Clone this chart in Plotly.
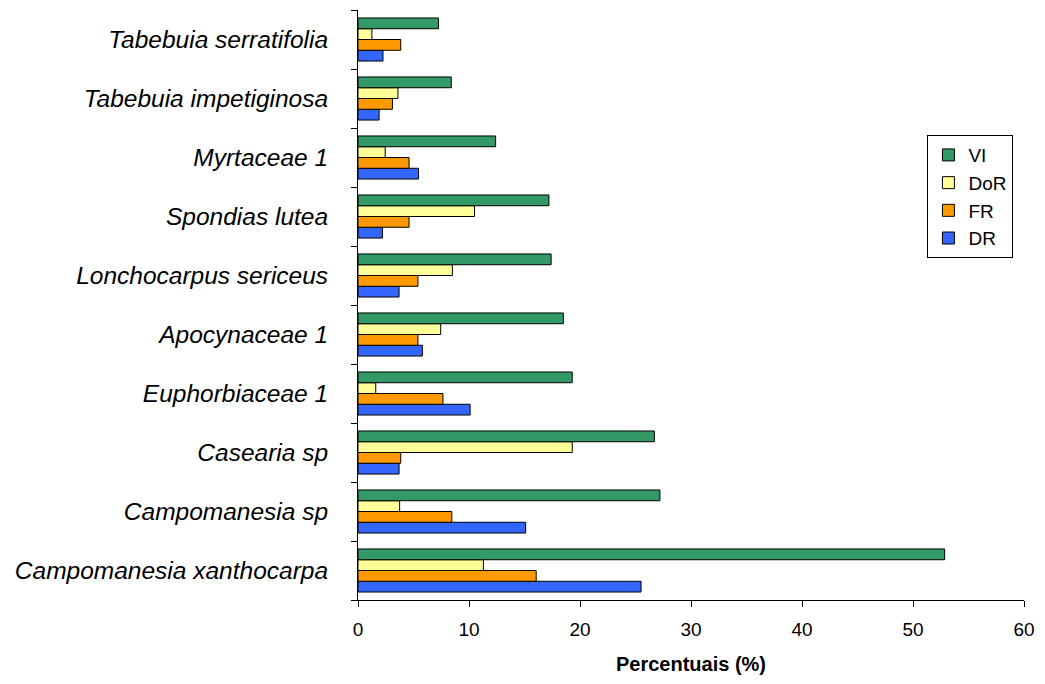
import plotly.graph_objects as go

# species, bottom to top as drawn
species = ['Campomanesia xanthocarpa', 'Campomanesia sp', 'Casearia sp', 'Euphorbiaceae 1',
           'Apocynaceae 1', 'Lonchocarpus sericeus', 'Spondias lutea', 'Myrtaceae 1',
           'Tabebuia impetiginosa', 'Tabebuia serratifolia']

dr = [25.5, 15.1, 3.7, 10.1, 5.8, 3.7, 2.2, 5.45, 1.9, 2.25]
fr = [16.05, 8.45, 3.85, 7.65, 5.4, 5.4, 4.6, 4.6, 3.1, 3.85]
dor = [11.3, 3.75, 19.3, 1.6, 7.45, 8.5, 10.5, 2.45, 3.6, 1.25]
vi = [52.85, 27.2, 26.7, 19.3, 18.5, 17.4, 17.2, 12.4, 8.4, 7.25]

# plotly stacks the first trace at the bottom of each group
series = [('DR', dr, '#3366FF'), ('FR', fr, '#FF9900'),
          ('DoR', dor, '#FFFF99'), ('VI', vi, '#339966')]

fig = go.Figure()
for name, vals, col in series:
    fig.add_trace(go.Bar(y=species, x=vals, name=name, orientation='h',
                         marker=dict(color=col, line=dict(color='black', width=1))))

# page body has an 8px margin, so the figure is a bit smaller than the window
fig.update_layout(
    width=1037, height=668,
    barmode='group', bargap=0.27, bargroupgap=0,
    plot_bgcolor='white', paper_bgcolor='white',
    margin=dict(l=350, r=21, t=2, b=76),
    font=dict(family='Arial, Liberation Sans, sans-serif', color='black'),
    legend=dict(x=0.855, y=0.788, xanchor='left', yanchor='top',
                traceorder='reversed', bordercolor='black', borderwidth=1,
                bgcolor='white', font=dict(size=19), itemwidth=30),
)
fig.update_xaxes(range=[0, 60], dtick=10, showgrid=False, zeroline=False,
                 showline=True, linecolor='black', linewidth=1,
                 ticks='outside', ticklen=6, tickcolor='black', automargin=False,
                 tickfont=dict(size=19), ticklabelstandoff=6,
                 title=dict(text='<b>Percentuais (%)</b>', font=dict(size=20), standoff=18))
fig.update_yaxes(showgrid=False, showline=True, linecolor='black', linewidth=1,
                 ticks='outside', ticklen=6, tickcolor='black', tickson='boundaries',
                 automargin=False,
                 tickfont=dict(size=24.5, style='italic'), ticklabelstandoff=24)

fig.write_html("out.html")
